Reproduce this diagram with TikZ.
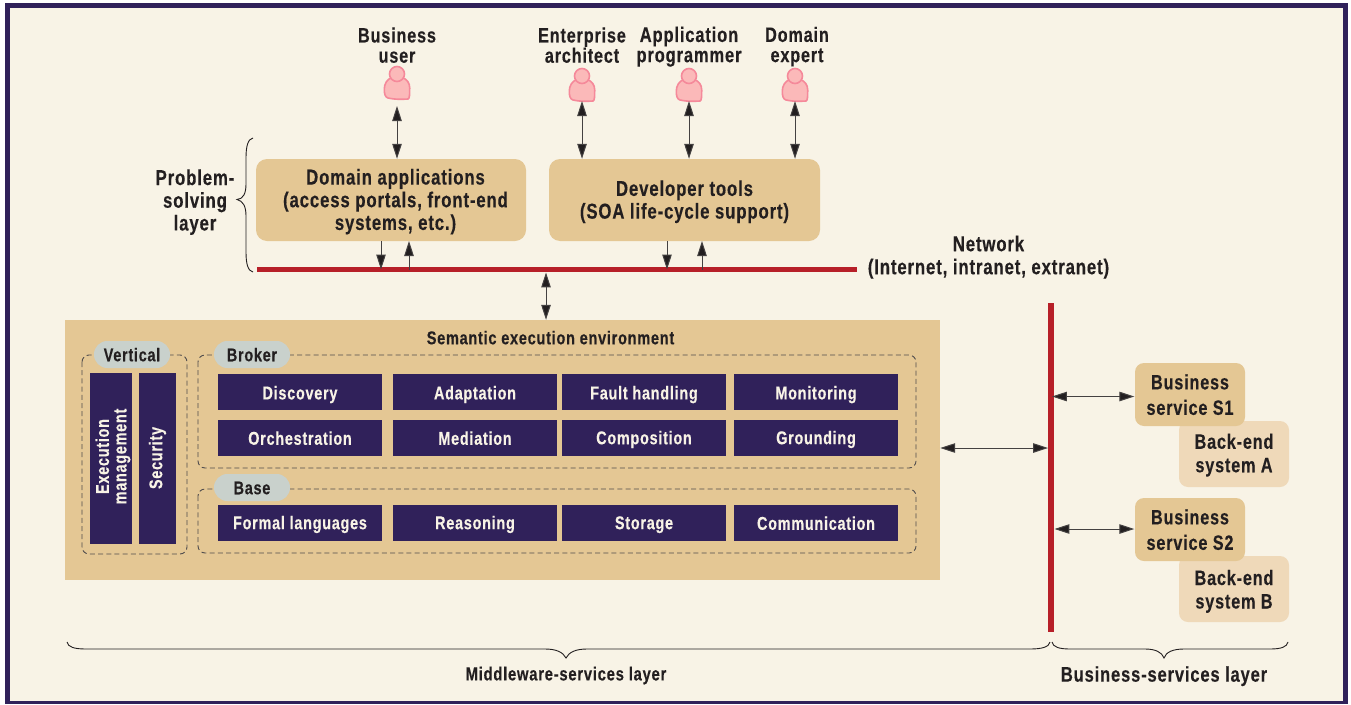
\documentclass[tikz,border=0pt]{standalone}
\usepackage{fontspec}
\setmainfont{Liberation Sans}[BoldFont={Liberation Sans Bold},BoldFeatures={FakeStretch=0.78,LetterSpace=4,FakeBold=0.3}]
\usetikzlibrary{arrows.meta,calc}
\definecolor{cream}{HTML}{F8F3E6}
\definecolor{frame}{HTML}{30215A}
\definecolor{tan}{HTML}{E4C794}
\definecolor{lighttan}{HTML}{EFD9B9}
\definecolor{barred}{HTML}{B71F28}
\definecolor{pill}{HTML}{C9D1CC}
\definecolor{ink}{HTML}{231F20}
\definecolor{pfill}{HTML}{FBB9B9}
\definecolor{pline}{HTML}{F5899A}
\newcommand{\zz}{\rule[-.15em]{0pt}{1.03em}}
\newcommand{\zr}{\zz\hspace*{9pt}}
\newcommand{\fsz}[2]{\bfseries\fontsize{#1}{#2}\selectfont}
\AtBeginDocument{\lineskiplimit=-100pt\relax}
\tikzset{
  txt/.style={text=ink,align=center,inner sep=0pt},
  peoplelbl/.style={txt,font=\fsz{20.8}{20.2}},
  bigbox/.style={txt,font=\fsz{21.5}{22.7}},
  netlbl/.style={txt,font=\fsz{21.5}{23}},
  blockbox/.style={txt,fill=frame,text=cream,font=\fsz{18.5}{20},minimum width=164,minimum height=36},
  vertbox/.style={fill=frame,minimum height=171,inner sep=0pt},
  vtext/.style={txt,rotate=90,text=cream,font=\fsz{18.5}{17.5}},
  tanbox/.style={bigbox,fill=tan,rounded corners=11,minimum width=270,minimum height=82},
  svcbox/.style={txt,font=\fsz{20.8}{25.5},fill=tan,rounded corners=9,minimum width=110,minimum height=63},
  endbox/.style={txt,font=\fsz{20.8}{23.5},fill=lighttan,rounded corners=9,minimum width=110,minimum height=66},
  pillbox/.style={txt,fill=pill,rounded corners=13.4,font=\fsz{18.5}{20},minimum width=76,minimum height=27},
  group/.style={draw=ink!80,line width=0.9pt,dash pattern=on 5pt off 3.2pt,rounded corners=7pt},
  barbox/.style={fill=barred,inner sep=0pt},
  link/.style={draw=ink!85,line width=1pt,{Triangle[length=15pt,width=9.5pt,fill=ink]}-{Triangle[length=15pt,width=9.5pt,fill=ink]}},
  linkone/.style={draw=ink!85,line width=1pt,-{Triangle[length=15pt,width=9.5pt,fill=ink]}},
  bracepath/.style={draw=ink,line width=0.9pt},
  personbody/.style={fill=pfill,draw=pline,line width=1.6pt},
}
\newcommand{\person}[3]{% name, x, y of head centre
  \draw[personbody] (#2-5,#3+3.5) .. controls (#2-10,#3+5) and (#2-12.7,#3+10) .. (#2-12.7,#3+15)
    .. controls (#2-12.7,#3+20) and (#2-12,#3+23) .. (#2-9,#3+24)
    .. controls (#2-3,#3+25.5) and (#2+5,#3+25.5) .. (#2+11,#3+25)
    .. controls (#2+12.7,#3+24.5) and (#2+12.7,#3+20) .. (#2+12.7,#3+14)
    .. controls (#2+12.7,#3+9) and (#2+10,#3+5) .. (#2+5,#3+3.5) -- cycle;
  \node[personbody,circle,minimum size=15,inner sep=0pt] (#1) at (#2,#3) {};
  \coordinate (#1foot) at (#2,#3+25);
}
\begin{document}
\begin{tikzpicture}[x=1pt,y=-1pt]
\useasboundingbox (0,0) rectangle (1351,704);
\fill[white] (0,0) rectangle (1351,704);
\fill[frame] (5,3) rectangle (1348,704);
\fill[cream] (10,8) rectangle (1343,701);

% people
\node[peoplelbl] at (397,45) {\zz Business\\\zz user};
\node[peoplelbl] at (582,45) {\zz Enterprise\\\zz architect};
\node[peoplelbl,font=\fsz{21.2}{20.2}] at (689,45) {\zz Application\\\zz programmer};
\node[peoplelbl] at (797,45) {\zz Domain\\\zz expert};
\person{pb}{397}{74}
\person{pe}{582}{76}
\person{pa}{689}{76}
\person{pd}{795}{76}

% problem-solving layer
\node[bigbox] at (195,200.5) {\zz Problem-\\\zz solving\\\zz layer};
\node[tanbox] (da) at (391,200) {\zr Domain applications\\\zr (access portals, front-end\\\zr systems, etc.)};
\node[tanbox,minimum width=271] (dt) at (684.5,200) {\zz Developer tools\\\zz (SOA life-cycle support)};
\node[barbox,minimum width=600,minimum height=5.5] (net) at (557,269.5) {};
\node[netlbl] at (988.5,255.5) {\zz Network\\\zz (Internet, intranet, extranet)};

% brace of problem-solving layer
\coordinate (b1a) at (253,138);
\coordinate (b1t) at (237,199.5);
\coordinate (b1b) at (253,272);
\draw[bracepath] (b1a) .. controls (248,139) and (246,146) .. (246,158)
  -- (246,184) .. controls (246,194) and (243,199) .. (b1t)
  .. controls (243,201) and (246,206) .. (246,216)
  -- (246,252) .. controls (246,264) and (248,271) .. (b1b);

% middleware box
\node[fill=tan,minimum width=875,minimum height=260,inner sep=0pt] (see) at (502.5,450) {};
\node[txt,font=\fsz{18.6}{20}] at (550.5,337.5) {\zz Semantic execution environment};

% dashed groups
\draw[group] (82,355) rectangle (187,554);
\draw[group] (198,355) rectangle (916,468);
\draw[group] (198,489) rectangle (916,553);
\node[pillbox] (pv) at (132,354.5) {\zz Vertical};
\node[pillbox] (pb2) at (252,354.5) {\zz Broker};
\node[pillbox] (pb3) at (252,487.5) {\zz Base};

% vertical blocks
\node[vertbox,minimum width=42] (ex) at (111,458.5) {};
\node[vertbox,minimum width=37] (sc) at (157.5,458.5) {};
\node[vtext] at (111.5,456.5) {\zz Execution\\\zz management};
\node[vtext] at (156,458) {\zz Security};

% blocks
\node[blockbox] (b11) at (300,392) {\zz\raisebox{-2.3pt}{Discovery}};
\node[blockbox] (b12) at (475,392) {\zz\raisebox{-2.3pt}{Adaptation}};
\node[blockbox] (b13) at (644,392) {\zz\raisebox{-2.3pt}{Fault handling}};
\node[blockbox] (b14) at (816,392) {\zz\raisebox{-2.3pt}{Monitoring}};
\node[blockbox] (b21) at (300,438) {\zz Orchestration};
\node[blockbox] (b22) at (475,438) {\zz Mediation};
\node[blockbox] (b23) at (644,438) {\zz Composition};
\node[blockbox] (b24) at (816,438) {\zz Grounding};
\node[blockbox] (b31) at (300,523) {\zz Formal languages};
\node[blockbox] (b32) at (475,523) {\zz Reasoning};
\node[blockbox] (b33) at (644,523) {\zz Storage};
\node[blockbox] (b34) at (816,523) {\zz Communication};

% business services
\node[barbox,minimum width=5.5,minimum height=329] (esb) at (1051,467.5) {};
\node[endbox] (ba) at (1234,454) {\zz\raisebox{1pt}{Back-end}\\\zz\raisebox{1pt}{system A}};
\node[svcbox] (s1) at (1190,394.5) {\zz Business\\\zz service S1};
\node[endbox] (bb) at (1234,589) {\zz\raisebox{-1.5pt}{Back-end}\\\zz\raisebox{-1.5pt}{system B}};
\node[svcbox] (s2) at (1190,529.5) {\zz Business\\\zz service S2};

% connectors
\draw[link] ($(pb)+(0,32)$) -- (pb |- da.north);
\draw[link] (pefoot) -- (pe |- dt.north);
\draw[link] (pafoot) -- (pa |- dt.north);
\draw[link] (pdfoot) -- (pd |- dt.north);
\coordinate (d1) at (381,241); \coordinate (u1) at (409,241);
\coordinate (d2) at (667,241); \coordinate (u2) at (702,241);
\draw[linkone] (d1) -- (d1 |- net.center);
\draw[linkone] (u1 |- net.center) -- (u1);
\draw[linkone] (d2) -- (d2 |- net.center);
\draw[linkone] (u2 |- net.center) -- (u2);
\coordinate (m) at (546,300);
\draw[link] (m |- net.south) -- (m |- see.north);
\coordinate (h) at (1000,448);
\draw[link] (h -| see.east) -- (h -| esb.west);
\coordinate (h1) at (1100,396.5);
\coordinate (h2) at (1100,529);
\draw[link] ($(h1 -| esb.east)+(-2,0)$) -- ($(h1 -| s1.west)+(-0.5,0)$);
\draw[link] ($(h2 -| esb.east)+(0.5,0)$) -- ($(h2 -| s2.west)+(-0.5,0)$);

% bottom braces
\coordinate (b2a) at (67,642);
\coordinate (b2t) at (566,658);
\coordinate (b2b) at (1050,642);
\draw[bracepath] (b2a) .. controls (68,647) and (74,649) .. (86,649)
  -- (545,649) .. controls (556,649) and (563,652) .. (b2t)
  .. controls (569,652) and (576,649) .. (587,649)
  -- (1030,649) .. controls (1042,649) and (1049,647) .. (b2b);
\coordinate (b3a) at (1052,642);
\coordinate (b3t) at (1164,658);
\coordinate (b3b) at (1288,642);
\draw[bracepath] (b3a) .. controls (1053,647) and (1059,649) .. (1070,649)
  -- (1145,649) .. controls (1155,649) and (1162,652) .. (b3t)
  .. controls (1166,652) and (1173,649) .. (1184,649)
  -- (1270,649) .. controls (1281,649) and (1287,647) .. (b3b);
\node[txt,font=\fsz{18.95}{20}] at (566,674) {\zz Middleware-services layer};
\node[txt,font=\fsz{21.2}{22}] at (1164,674.5) {\zz Business-services layer};
\end{tikzpicture}
\end{document}
